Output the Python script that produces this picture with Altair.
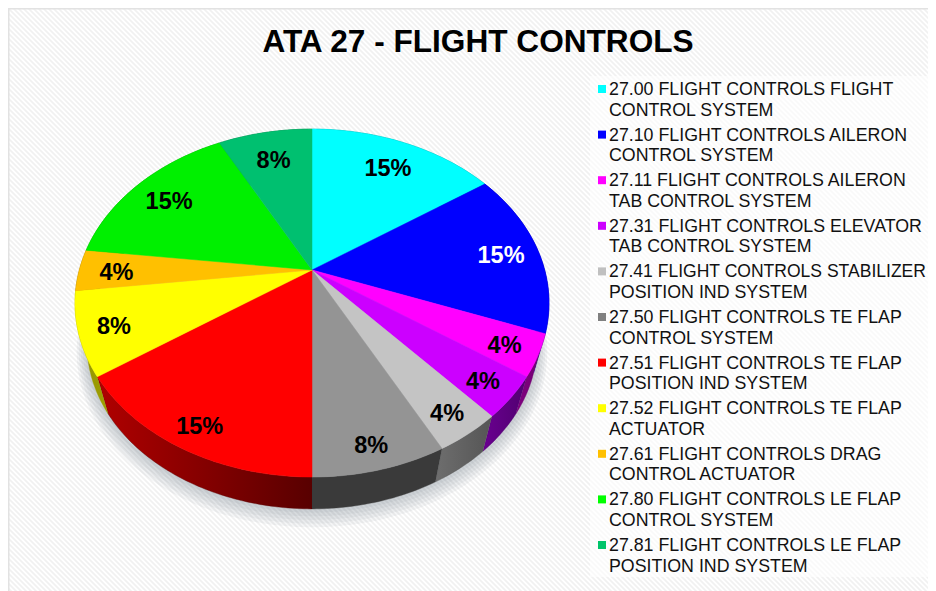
import math
import altair as alt
import pandas as pd

title = "ATA 27 - FLIGHT CONTROLS"
codes = ["27.00", "27.10", "27.11", "27.31", "27.41", "27.50", "27.51", "27.52", "27.61", "27.80", "27.81"]
line_one = ["FLIGHT CONTROLS FLIGHT", "FLIGHT CONTROLS AILERON", "FLIGHT CONTROLS AILERON",
            "FLIGHT CONTROLS ELEVATOR", "FLIGHT CONTROLS STABILIZER", "FLIGHT CONTROLS TE FLAP",
            "FLIGHT CONTROLS TE FLAP", "FLIGHT CONTROLS TE FLAP", "FLIGHT CONTROLS DRAG",
            "FLIGHT CONTROLS LE FLAP", "FLIGHT CONTROLS LE FLAP"]
line_two = ["CONTROL SYSTEM", "CONTROL SYSTEM", "TAB CONTROL SYSTEM", "TAB CONTROL SYSTEM",
            "POSITION IND SYSTEM", "CONTROL SYSTEM", "POSITION IND SYSTEM", "ACTUATOR",
            "CONTROL ACTUATOR", "CONTROL SYSTEM", "POSITION IND SYSTEM"]
counts = [4, 4, 1, 1, 1, 2, 4, 2, 1, 4, 2]
colors = ["#00FFFF", "#0000FF", "#FF00FF", "#CC00FF", "#C0C0C0", "#808080", "#FF0000", "#FFFF00", "#FFC000", "#00FF00", "#00C46A"]
top_colors = ["#00FFFF", "#0000FF", "#FF00FF", "#CC00FF", "#C4C4C4", "#949494", "#FF0000", "#FFFF00", "#FFC000", "#00F000", "#00C070"]
wall_left = ["#008080", "#000080", "#800080", "#6A0090", "#6E6E6E", "#3A3A3A", "#B00000", "#909000", "#806000", "#008000", "#006030"]
wall_right = ["#008080", "#000080", "#700070", "#500070", "#555555", "#3A3A3A", "#580000", "#A0A000", "#806000", "#008000", "#006030"]
label_colors = ["black", "white"] + ["black"] * 9

W, H = 920, 583
xs = alt.Scale(domain=[8, 928], range=[0, W])
ys = alt.Scale(domain=[591, 8])
X = lambda f: alt.X(f, type="quantitative", scale=xs, axis=None)
Y = lambda f: alt.Y(f, type="quantitative", scale=ys, axis=None)

CX, CY, A, B, K = 312, 270, 232.7, 167.7, 0.19
CY2, A2, B2 = 312.6, 221, 159


def top(theta, r=1.0):
    u, v = r * math.sin(theta), r * math.cos(theta)
    d = 1 + K * v
    return CX + A * u / d, CY - B * v / d


def low(theta, grow=0.0):
    u, v = math.sin(theta), math.cos(theta)
    d = 1 + K * v
    return CX + (A2 + grow) * u / d, CY2 + grow * 0.6 - (B2 + grow) * v / d


def poly(points, **mark):
    df = pd.DataFrame(points, columns=["x", "y"])
    df["i"] = range(len(df))
    return alt.Chart(df).mark_line(**mark).encode(
        x=X("x"), y=Y("y"), order=alt.Order("i:Q"))


total = sum(counts)
bounds = [0]
for c in counts:
    bounds.append(bounds[-1] + c / total * 2 * math.pi)


def arc(a, b):
    n = max(2, int((b - a) / math.radians(1)))
    return [a + (b - a) * i / n for i in range(n + 1)]


layers = []

# hatch background
stripes = []
for c in range(-940, 600, 5):
    stripes.append({"x": 0, "y": c, "x2": 940, "y2": c + 940})
layers.append(alt.Chart(pd.DataFrame(stripes)).mark_rule(color="#f1f1f1", strokeWidth=1.8, clip=True).encode(
    x=X("x"), y=Y("y"), x2="x2:Q", y2="y2:Q"))

# paler panel behind the legend
panel = pd.DataFrame([{"x": 590, "x2": 928, "y": 76, "y2": 577}])
layers.append(alt.Chart(panel).mark_rect(color="white", opacity=0.6).encode(
    x=X("x"), x2="x2:Q", y=Y("y"), y2="y2:Q"))

# frame
frame = pd.DataFrame([{"x": 8, "x2": 9.5, "y": 8, "y2": 591}, {"x": 8, "x2": 928, "y": 8, "y2": 9.5}])
layers.append(alt.Chart(frame).mark_rect(color="#e2e2e2").encode(
    x=X("x"), x2="x2:Q", y=Y("y"), y2="y2:Q"))

# soft shadow under the pie
for g in [10, 8, 6, 4, 2]:
    pts = [low(t, g) for t in arc(0, 2 * math.pi)]
    layers.append(poly(pts, fill="#6a7080", fillOpacity=0.07, strokeOpacity=0))

# walls
for i in range(len(counts)):
    ts = arc(bounds[i], bounds[i + 1])
    pts = [top(t) for t in ts] + [low(t) for t in reversed(ts)]
    grad = alt.Gradient(gradient="linear", x1=0, x2=1, y1=0, y2=0, stops=[
        alt.GradientStop(offset=0, color=wall_left[i]), alt.GradientStop(offset=1, color=wall_right[i])])
    layers.append(poly(pts, fill=grad, stroke=wall_right[i], strokeWidth=0.4))

# top faces
for i in range(len(counts)):
    ts = arc(bounds[i], bounds[i + 1])
    pts = [(CX, CY)] + [top(t) for t in ts] + [(CX, CY)]
    layers.append(poly(pts, fill=top_colors[i], stroke=top_colors[i], strokeWidth=0.5))

# percent labels
rows = []
for i, c in enumerate(counts):
    mid = (bounds[i] + bounds[i + 1]) / 2
    r = 0.84 - 0.05 * math.cos(mid)
    x, y = top(mid, r)
    rows.append({"x": x, "y": y + 3, "t": f"{round(c / total * 100)}%", "c": label_colors[i]})
layers.append(alt.Chart(pd.DataFrame(rows)).mark_text(
    font="Liberation Sans", fontWeight="bold", fontSize=23.5, align="center", baseline="middle").encode(
    x=X("x"), y=Y("y"), text="t:N", color=alt.Color("c:N", scale=None)))

# legend
marks, texts = [], []
for i in range(len(counts)):
    y0 = 90 + 45.6 * i
    marks.append({"x": 602, "y": y0 - 1, "c": colors[i]})
    first = f"{codes[i]} {line_one[i]}"
    texts.append({"x": 609, "y": y0, "t": first, "s": 17.55 if len(first) > 30 else 17.8})
    texts.append({"x": 609, "y": y0 + 20.6, "t": line_two[i], "s": 17.8})
layers.append(alt.Chart(pd.DataFrame(marks)).mark_square(size=64, opacity=1, filled=True).encode(
    x=X("x"), y=Y("y"), color=alt.Color("c:N", scale=None)))
layers.append(alt.Chart(pd.DataFrame(texts)).mark_text(
    font="Liberation Sans", align="left", baseline="middle", color="#111111").encode(
    x=X("x"), y=Y("y"), text="t:N", size=alt.Size("s:Q", scale=None)))

# title
layers.append(alt.Chart(pd.DataFrame([{"x": 478, "y": 43, "t": title}])).mark_text(
    font="Liberation Sans", fontWeight="bold", fontSize=31.6, align="center", baseline="middle", color="black").encode(
    x=X("x"), y=Y("y"), text="t:N"))

chart = alt.layer(*layers).properties(
    width=W, height=H, padding=0, autosize=alt.AutoSizeParams(type="none"), background="white"
).configure_view(stroke=None)

chart.save("out.html", embed_options={"renderer": "svg", "actions": False})
